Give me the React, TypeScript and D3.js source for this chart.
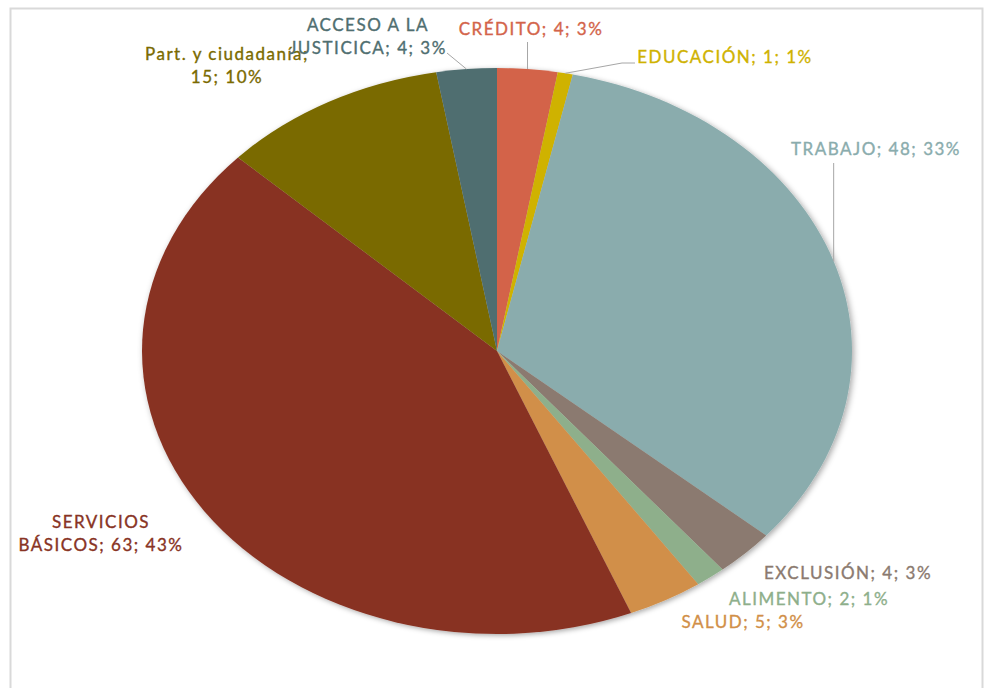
import React, { useRef, useEffect } from "react";
import * as d3 from "d3";

// categories and values
const categories = [
  "CRÉDITO",
  "EDUCACIÓN",
  "TRABAJO",
  "EXCLUSIÓN",
  "ALIMENTO",
  "SALUD",
  "SERVICIOS BÁSICOS",
  "Part. y ciudadanía",
  "ACCESO A LA JUSTICICA",
];
const values = [4, 1, 48, 4, 2, 5, 63, 15, 4];
const colors = [
  "#d3644a",
  "#cfb200",
  "#8aacad",
  "#8b7a6f",
  "#8eaf8b",
  "#d18f48",
  "#883324",
  "#7a6a00",
  "#4f6e70",
];
// label lines as they wrap in the chart
const labelLines = [
  ["CRÉDITO; 4; 3%"],
  ["EDUCACIÓN; 1; 1%"],
  ["TRABAJO; 48; 33%"],
  ["EXCLUSIÓN; 4; 3%"],
  ["ALIMENTO; 2; 1%"],
  ["SALUD; 5; 3%"],
  ["SERVICIOS", "BÁSICOS; 63; 43%"],
  ["Part. y ciudadanía;", "15; 10%"],
  ["ACCESO A LA", "JUSTICICA; 4; 3%"],
];

export default function App() {
  const ref = useRef<SVGSVGElement>(null);

  useEffect(() => {
    const width = 985,
      height = 688;
    const cx = 497,
      cy = 351;
    const rx = 355,
      ry = 283;

    const svg = d3.select(ref.current);
    svg.selectAll("*").remove();
    svg.attr("width", width).attr("height", height);

    const defs = svg.append("defs");
    const f = defs
      .append("filter")
      .attr("id", "shadow")
      .attr("x", "-10%")
      .attr("y", "-10%")
      .attr("width", "120%")
      .attr("height", "120%");
    f.append("feDropShadow")
      .attr("dx", 1.5)
      .attr("dy", 1.5)
      .attr("stdDeviation", 2.5)
      .attr("flood-color", "#000")
      .attr("flood-opacity", 0.35);

    // chart frame
    svg
      .append("rect")
      .attr("x", 10.5)
      .attr("y", 8.5)
      .attr("width", 972)
      .attr("height", 720)
      .attr("fill", "#fff")
      .attr("stroke", "#d9d9d9")
      .attr("stroke-width", 2);

    const pie = d3
      .pie<number>()
      .sort(null)
      .value((d) => d);
    const arcs = pie(values);

    // the picture was stretched sideways: draw a circle and scale it
    const arc = d3.arc<d3.PieArcDatum<number>>().innerRadius(0).outerRadius(ry);
    const g = svg
      .append("g")
      .attr("transform", `translate(${cx},${cy}) scale(${rx / ry},1)`)
      .attr("filter", "url(#shadow)");
    g.selectAll("path")
      .data(arcs)
      .enter()
      .append("path")
      .attr("d", arc)
      .attr("fill", (d, i) => colors[i]);

    const edge = (a: d3.PieArcDatum<number>) => {
      const m = (a.startAngle + a.endAngle) / 2;
      return [cx + rx * Math.sin(m), cy - ry * Math.cos(m)];
    };

    // label anchors (centre x, first baseline)
    const labelPos = [
      [531, 35],
      [725, 63],
      [876, 155],
      [848, 579],
      [809, 605],
      [743, 628],
      [101, 528],
      [227, 60],
      [368, 31],
    ];

    // leader lines
    const leaders: { i: number; pts: number[][] }[] = [
      { i: 0, pts: [[527.5, 42]] },
      { i: 1, pts: [[622, 63], [635, 63]] },
      { i: 2, pts: [[edge(arcs[2])[0], 163]] },
      { i: 8, pts: [[447, 53]] },
    ];
    const line = d3.line();
    leaders.forEach((l) => {
      const p0 = edge(arcs[l.i]);
      const pts = [p0, ...l.pts];
      if (l.i === 0) pts[1][0] = p0[0];
      svg
        .append("path")
        .attr("d", line(pts as [number, number][]))
        .attr("fill", "none")
        .attr("stroke", "#a6a6a6")
        .attr("stroke-width", 1);
    });

    const lab = svg
      .append("g")
      .attr("font-family", "Lato, 'Open Sans', sans-serif")
      .attr("font-size", 17)
      .attr("letter-spacing", 1.5)
      .attr("text-anchor", "middle");
    labelLines.forEach((lines, i) => {
      const t = lab
        .append("text")
        .attr("fill", colors[i])
        .attr("stroke", colors[i])
        .attr("stroke-width", 0.35)
        .attr("x", labelPos[i][0])
        .attr("y", labelPos[i][1]);
      lines.forEach((s, k) => {
        t.append("tspan")
          .attr("x", labelPos[i][0])
          .attr("dy", k === 0 ? 0 : 23)
          .text(s);
      });
    });
  }, []);

  return (
    <div style={{ position: "absolute", left: 0, top: 0 }}>
      <svg ref={ref} style={{ display: "block" }}></svg>
    </div>
  );
}
